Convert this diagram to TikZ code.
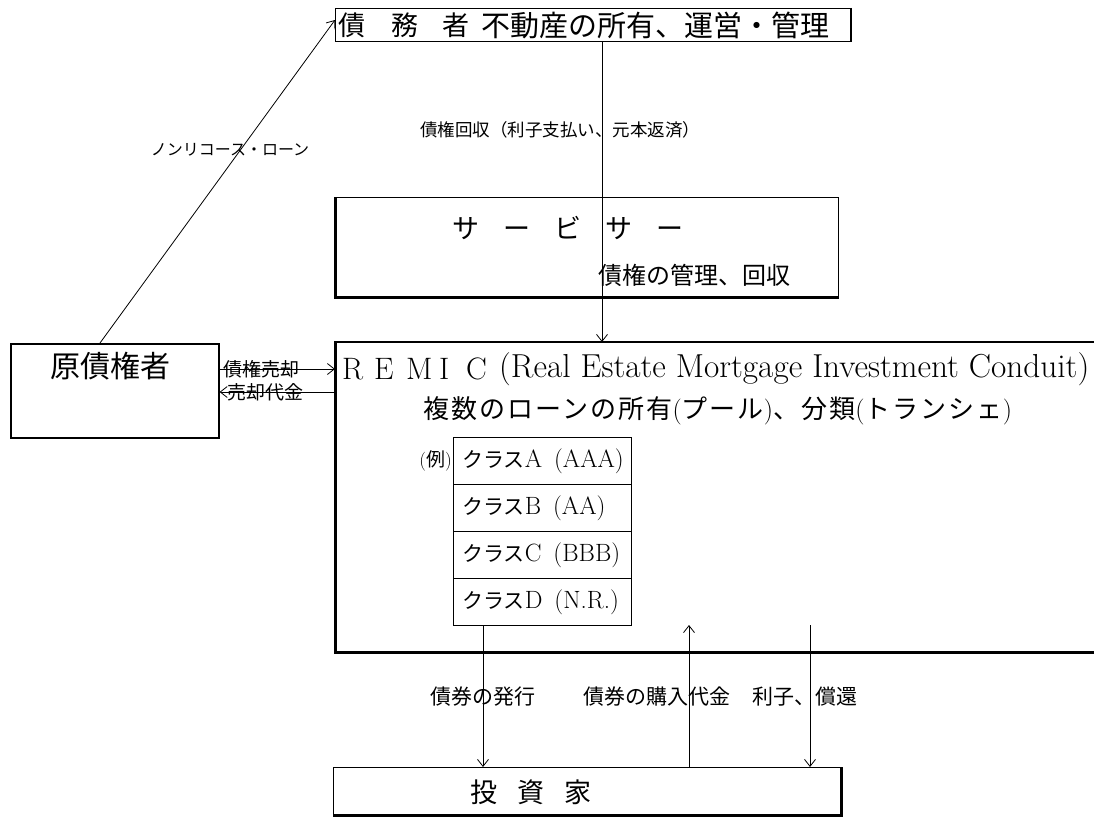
\documentclass[tikz,border=0pt]{standalone}
\usepackage{fontspec}
\newfontfamily\jp{Noto Sans CJK JP}
\usetikzlibrary{arrows.meta}
\newcommand\fsz[1]{\fontsize{#1}{#1}\selectfont}
\begin{document}
\begin{tikzpicture}[x=1pt,y=-1pt,
  box/.style={draw,line width=1.2pt,inner sep=0pt,anchor=north west},
  cell/.style={draw,line width=1pt,inner sep=0pt,anchor=north west,minimum width=178pt,minimum height=47pt},
  heavy/.style={line width=3pt},
  arr/.style={line width=0.8pt,-{Straight Barb[length=7pt,width=11pt,line width=0.8pt]}},
  lbl/.style={inner sep=0pt,font=\jp},
  lat/.style={inner sep=0pt}]
\useasboundingbox (0,0) rectangle (1094,816);
\fill[white] (0,0) rectangle (1094,816);

% debtor
\node[box,minimum width=515pt,minimum height=33pt] (deb) at (335,8) {};
\draw[line width=2.2pt] (deb.north east) -- (deb.south east);
\node[lbl,anchor=west] (debn) at (338,25) {\fsz{27}債\hspace{26pt}務\hspace{24pt}者};
\node[lbl,anchor=west] (debd) at (481,25) {\fsz{29}不動産の所有、運営・管理};

% servicer
\node[box,minimum width=503pt,minimum height=99pt] (srv) at (335,197) {};
\draw[heavy] (srv.north west) -- (srv.south west) -- (srv.south east);
\node[lbl,anchor=west] (srvn) at (452,228) {\fsz{27}サ\hspace{24pt}ー\hspace{24pt}ビ\hspace{24pt}サ\hspace{24pt}ー};
\node[lbl,anchor=west] (srvd) at (598,275) {\fsz{24}債権の管理、回収};

% original creditor
\node[box,line width=1.6pt,minimum width=208pt,minimum height=94pt] (cr) at (10,343) {};
\node[lbl] (crn) at (110,366) {\fsz{30}原債権者};

% REMIC
\node[inner sep=0pt,anchor=north west,minimum width=770pt,minimum height=310pt] (remic) at (335,342) {};
\draw[line width=1.2pt] (remic.north east) -- (remic.north west) -- (remic.south west) -- (remic.south east);
\draw[heavy] (remic.north west) -- (remic.south west) -- (remic.south east);
\node[lat,anchor=west] (remicn) at (342,369) {\fsz{31}\makebox[32pt][l]{R}\makebox[32pt][l]{E}\makebox[33pt][l]{M}\makebox[27pt][l]{I}C};
\node[lat,anchor=west] (remicf) at (499,369) {\resizebox{590pt}{!}{\fsz{27}(Real Estate Mortgage Investment Conduit)}};
\node[lbl,anchor=west] (remicd) at (423,411) {\fsz{26}\addfontfeature{LetterSpace=8}複数のローンの所有{\rmfamily(}プール{\rmfamily)}、分類{\rmfamily(}トランシェ{\rmfamily)}};

% tranche table
\node[cell] (ta) at (453,437) {};
\node[cell] (tb) at (453,484) {};
\node[cell] (tc) at (453,531) {};
\node[cell] (td) at (453,578) {};
\node[lbl,anchor=east] (ex) at (452,461) {\fsz{19}{\rmfamily(}例{\rmfamily)}};
\node[lbl,anchor=west] (tan) at (462,461) {\fsz{21}クラス{\rmfamily\fsz{25}A\hspace{12pt}(AAA)}};
\node[lbl,anchor=west] (tbn) at (462,508) {\fsz{21}クラス{\rmfamily\fsz{25}B\hspace{12pt}(AA)}};
\node[lbl,anchor=west] (tcn) at (462,555) {\fsz{21}クラス{\rmfamily\fsz{25}C\hspace{12pt}(BBB)}};
\node[lbl,anchor=west] (tdn) at (462,602) {\fsz{21}クラス{\rmfamily\fsz{25}D\hspace{12pt}(N.R.)}};

% investor
\node[box,minimum width=507pt,minimum height=47pt] (inv) at (333,767) {};
\draw[heavy] (inv.north east) -- (inv.south east) -- (inv.south west);
\node[lbl,anchor=west] (invn) at (470,792) {\fsz{27}投\hspace{20pt}資\hspace{20pt}家};

% connectors
\coordinate (xc) at (602,0);
\draw[arr] (deb.south -| xc) -- (remic.north -| xc);
\node[lbl,anchor=west] (lcol) at (420,130) {\fsz{17.5}債権回収（利子支払い、元本返済）};

\draw[arr] (cr.north -| 100,0) -- (deb.west |- 0,20);
\node[lbl] (lnr) at (230,150) {\fsz{16}ノンリコース・ローン};

\draw[arr] (cr.east |- 0,369) -- (remic.west |- 0,369);
\node[lbl] (lsell) at (261,369) {\fsz{19}債権売却};
\draw[arr] (remic.west |- 0,392) -- (cr.east |- 0,392);
\node[lbl] (lpay) at (265,392) {\fsz{19}売却代金};

\coordinate (x1) at (483,0);
\coordinate (x2) at (689,0);
\coordinate (x3) at (810,0);
\coordinate (up2) at (689,625);
\coordinate (dn3) at (810,625);
\draw[arr] (td.south -| x1) -- (inv.north -| x1);
\draw[arr] (inv.north -| x2) -- (up2);
\draw[arr] (dn3) -- (inv.north -| x3);
\node[lbl,anchor=west] (l1) at (430,697) {\fsz{21}債券の発行};
\node[lbl,anchor=west] (l2) at (583,697) {\fsz{21}債券の購入代金};
\node[lbl,anchor=west] (l3) at (752,697) {\fsz{21}利子、償還};
\end{tikzpicture}
\end{document}
